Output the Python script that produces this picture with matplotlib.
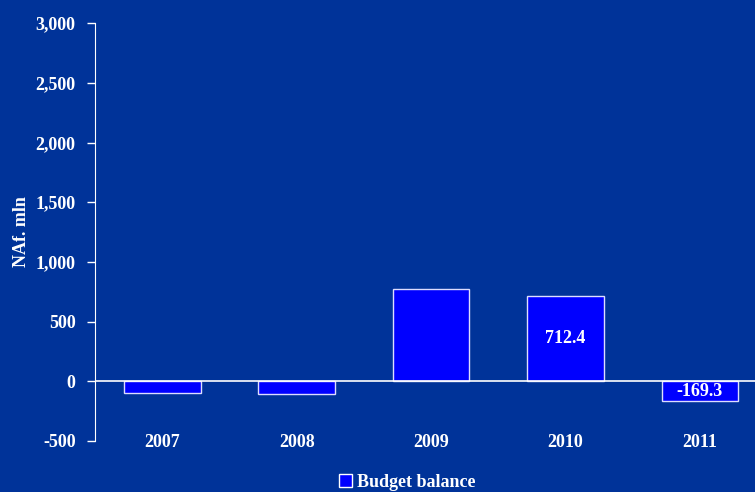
import matplotlib.pyplot as plt
from matplotlib.patches import Patch

years = ["2007", "2008", "2009", "2010", "2011"]
balance = [-95, -108, 776, 712.4, -169.3]
labelled = {3: "712.4", 4: "-169.3"}
yticks = [-500, 0, 500, 1000, 1500, 2000, 2500, 3000]

bg = "#003399"
plt.rcParams['font.family'] = ['Liberation Serif', 'DejaVu Serif']
plt.rcParams['font.weight'] = 'bold'

fig = plt.figure(figsize=(7.55, 4.92), dpi=100, facecolor=bg)
ax = fig.add_axes([0.126, 0.1037, 0.874, 0.8493], facecolor=bg)

x = list(range(len(years)))
ax.bar(x, balance, width=0.57, color="#0000FF", edgecolor="#DDDDFF", linewidth=1)
ax.axhline(0, color="white", linewidth=1.2)

for i, txt in labelled.items():
    ax.text(i, balance[i] / 2, txt, ha="center", va="center", color="white",
            fontsize=13, fontweight="bold")

ax.set_xlim(-0.5, 4.41)
ax.set_ylim(-500, 3000)
ax.set_yticks(yticks)
ax.set_yticklabels([f"{v:,}" for v in yticks])
ax.set_xticks(x)
ax.set_xticklabels(years)

for s in ["top", "right", "bottom"]:
    ax.spines[s].set_visible(False)
ax.spines["left"].set_color("white")
ax.tick_params(axis="y", colors="white", length=6, width=1, labelsize=13, pad=8)
ax.tick_params(axis="x", colors="white", length=0, labelsize=13, pad=-5)
for t in ax.get_xticklabels() + ax.get_yticklabels():
    t.set_fontweight("bold")
    t.set_color("white")

ax.set_ylabel("NAf. mln", color="white", fontsize=13, fontweight="bold", labelpad=4)

handle = Patch(facecolor="#0000FF", edgecolor="white", linewidth=1)
fig.legend([handle], ["Budget balance"], loc="lower center", bbox_to_anchor=(0.54, -0.03),
           frameon=False, labelcolor="white", handlelength=0.7, handleheight=0.7,
           handletextpad=0.3, prop={"weight": "bold", "size": 13})

fig.savefig("out.png", facecolor=bg)
